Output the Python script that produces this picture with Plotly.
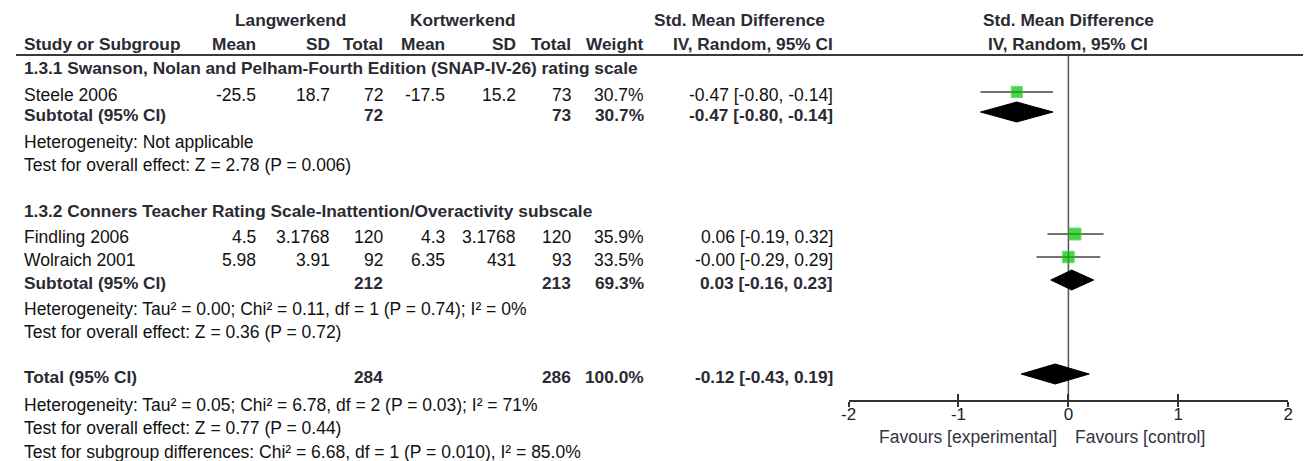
import plotly.graph_objects as go

# ---------------- data ----------------
studies = ["Steele 2006", "Findling 2006", "Wolraich 2001"]
lang_mean = [-25.5, 4.5, 5.98]
lang_sd = [18.7, 3.1768, 3.91]
lang_total = [72, 120, 92]
kort_mean = [-17.5, 4.3, 6.35]
kort_sd = [15.2, 3.1768, 431]
kort_total = [73, 120, 93]
weights = [30.7, 35.9, 33.5]
smd = [-0.47, 0.06, -0.00]
smd_lo = [-0.80, -0.19, -0.29]
smd_hi = [-0.14, 0.32, 0.29]

group_names = [
    "1.3.1 Swanson, Nolan and Pelham-Fourth Edition (SNAP-IV-26) rating scale",
    "1.3.2 Conners Teacher Rating Scale-Inattention/Overactivity subscale",
]
sub_lang_total = [72, 212]
sub_kort_total = [73, 213]
sub_weight = [30.7, 69.3]
sub_smd = [-0.47, 0.03]
sub_lo = [-0.80, -0.16]
sub_hi = [-0.14, 0.23]
sub_het = [
    "Heterogeneity: Not applicable",
    "Heterogeneity: Tau² = 0.00; Chi² = 0.11, df = 1 (P = 0.74); I² = 0%",
]
sub_test = [
    "Test for overall effect: Z = 2.78 (P = 0.006)",
    "Test for overall effect: Z = 0.36 (P = 0.72)",
]

total_lang = 284
total_kort = 286
total_weight = 100.0
total_smd = -0.12
total_lo = -0.43
total_hi = 0.19
total_notes = [
    "Heterogeneity: Tau² = 0.05; Chi² = 6.78, df = 2 (P = 0.03); I² = 71%",
    "Test for overall effect: Z = 0.77 (P = 0.44)",
    "Test for subgroup differences: Chi² = 6.68, df = 1 (P = 0.010), I² = 85.0%",
]

tick_vals = [-2, -1, 0, 1, 2]
tick_text = ["-2", "-1", "0", "1", "2"]
favours = ["Favours [experimental]", "Favours [control]"]

# ---------------- layout constants (page pixels) ----------------
PAGE_W, PAGE_H = 1311, 461
OX, OY = 8, 8                      # default body margin of the page
W, H = PAGE_W - OX, PAGE_H - OY
FONT = "Liberation Sans, Arial, sans-serif"
REG = 17.5
BOLD = 17.3
BOLD_C = "#2a2a33"
TXT_C = "#111111"

COL = dict(name=16, l_mean=250, l_sd=325, l_tot=379, k_mean=441, k_sd=513,
           k_tot=569, weight=642, ci=833)
study_rows = [95, 237, 260]
group_rows = [68, 211]
sub_rows = [115, 283]
het_rows = [142, 309]
test_rows = [165, 332]
total_row = 377
total_note_rows = [405, 428, 452]
MARK_OFF = -3
AXIS_Y = 400
X_LEFT, X_RIGHT = 849, 1293


def px(x):
    return (x - OX) / W


def py(y):
    return 1 - (y - OY) / H


fig = go.Figure()
ann = []


def T(x, y, text, anchor="right", bold=False, size=None, color=None):
    ann.append(dict(
        x=px(x), y=py(y), xref="paper", yref="paper",
        text=f"<b>{text}</b>" if bold else text,
        xanchor=anchor, yanchor="middle", showarrow=False,
        borderpad=0, borderwidth=0,
        font=dict(family=FONT, size=size or (BOLD if bold else REG),
                  color=color or (BOLD_C if bold else TXT_C)),
    ))


def fmt(v):
    return f"{v:g}"


def ci(e, lo, hi):
    return f"{e:.2f} [{lo:.2f}, {hi:.2f}]"


# headers
T(285, 20, "Langwerkend", "center", True)
T(460, 20, "Kortwerkend", "center", True)
T(739, 20, "Std. Mean Difference", "center", True)
T(1071, 20, "Std. Mean Difference", "center", True)
T(COL["name"], 44, "Study or Subgroup", "left", True)
for k, lab in [("l_mean", "Mean"), ("l_sd", "SD"), ("l_tot", "Total"),
               ("k_mean", "Mean"), ("k_sd", "SD"), ("k_tot", "Total"),
               ("weight", "Weight"), ("ci", "IV, Random, 95% CI")]:
    T(COL[k], 44, lab, "right", True)
T(1071, 44, "IV, Random, 95% CI", "center", True)

# groups
for g in range(2):
    T(COL["name"], group_rows[g], group_names[g], "left", True)
    T(COL["name"], sub_rows[g], "Subtotal (95% CI)", "left", True)
    T(COL["l_tot"], sub_rows[g], fmt(sub_lang_total[g]), "right", True)
    T(COL["k_tot"], sub_rows[g], fmt(sub_kort_total[g]), "right", True)
    T(COL["weight"], sub_rows[g], f"{sub_weight[g]:.1f}%", "right", True)
    T(COL["ci"], sub_rows[g], ci(sub_smd[g], sub_lo[g], sub_hi[g]), "right", True)
    T(COL["name"], het_rows[g], sub_het[g], "left")
    T(COL["name"], test_rows[g], sub_test[g], "left")

for i, s in enumerate(studies):
    y = study_rows[i]
    T(COL["name"], y, s, "left")
    T(COL["l_mean"], y, fmt(lang_mean[i]))
    T(COL["l_sd"], y, fmt(lang_sd[i]))
    T(COL["l_tot"], y, fmt(lang_total[i]))
    T(COL["k_mean"], y, fmt(kort_mean[i]))
    T(COL["k_sd"], y, fmt(kort_sd[i]))
    T(COL["k_tot"], y, fmt(kort_total[i]))
    T(COL["weight"], y, f"{weights[i]:.1f}%")
    T(COL["ci"], y, ci(smd[i], smd_lo[i], smd_hi[i]))

# total
T(COL["name"], total_row, "Total (95% CI)", "left", True)
T(COL["l_tot"], total_row, fmt(total_lang), "right", True)
T(COL["k_tot"], total_row, fmt(total_kort), "right", True)
T(COL["weight"], total_row, f"{total_weight:.1f}%", "right", True)
T(COL["ci"], total_row, ci(total_smd, total_lo, total_hi), "right", True)
for t, y in zip(total_notes, total_note_rows):
    T(COL["name"], y, t, "left")

# favours
T(1059, 437, favours[0], "right", size=17.5, color="#333340")
T(1078, 437, favours[1], "left", size=17.5, color="#333340")

# ---------------- forest marks ----------------
ys = [study_rows[i] + MARK_OFF for i in range(len(studies))]
fig.add_trace(go.Scatter(
    x=smd, y=ys, mode="markers", xaxis="x", yaxis="y",
    marker=dict(symbol="square", size=[2 * w ** 0.5 for w in weights],
                color="#00c000", line=dict(color="#33cc33", width=1)),
    error_x=dict(type="data", symmetric=False,
                 array=[h - e for h, e in zip(smd_hi, smd)],
                 arrayminus=[e - l for e, l in zip(smd, smd_lo)],
                 color="#444444", thickness=1.5, width=0),
    hoverinfo="skip", showlegend=False,
))

DH = 10
diamonds = [(sub_smd[g], sub_lo[g], sub_hi[g], sub_rows[g] + MARK_OFF) for g in range(2)]
diamonds.append((total_smd, total_lo, total_hi, total_row + MARK_OFF))
for e, lo, hi, y in diamonds:
    fig.add_trace(go.Scatter(
        x=[lo, e, hi, e, lo], y=[y, y - DH, y, y + DH, y],
        mode="lines", fill="toself", fillcolor="black",
        line=dict(color="black", width=1), hoverinfo="skip", showlegend=False,
    ))

# invisible trace for the overlay axis
fig.add_trace(go.Scatter(x=[0], y=[100], xaxis="x2", yaxis="y", mode="markers",
                         marker=dict(opacity=0), hoverinfo="skip", showlegend=False))

# lines
fig.add_shape(type="line", xref="paper", yref="paper", x0=px(8), x1=1,
              y0=py(55), y1=py(55), line=dict(color="#3a3a3a", width=2))
fig.add_shape(type="line", xref="x", yref="y", x0=0, x1=0, y0=55, y1=AXIS_Y,
              line=dict(color="#555555", width=1.5), layer="below")

xdom = [px(X_LEFT), px(X_RIGHT)]
fig.update_layout(
    width=W, height=H, autosize=False,
    margin=dict(l=0, r=0, t=0, b=0),
    paper_bgcolor="white", plot_bgcolor="rgba(0,0,0,0)",
    annotations=ann,
    xaxis=dict(domain=xdom, range=[-2, 2], showgrid=False, zeroline=False,
               showline=True, linecolor="#333333", linewidth=1.5,
               ticks="outside", ticklen=5, tickwidth=1.5, tickcolor="#333333",
               tickvals=tick_vals, ticktext=tick_text, ticklabelstandoff=-7,
               tickfont=dict(family=FONT, size=17, color="#222222"),
               anchor="y", fixedrange=True),
    xaxis2=dict(domain=xdom, range=[-2, 2], overlaying="x", anchor="y",
                side="bottom", showgrid=False, zeroline=False, showline=False,
                ticks="inside", ticklen=6, tickwidth=1.5, tickcolor="#333333",
                tickvals=tick_vals, showticklabels=False, fixedrange=True),
    yaxis=dict(domain=[py(AXIS_Y), 1], range=[AXIS_Y, OY], visible=False,
               fixedrange=True),
)

fig.write_html("out.html")
